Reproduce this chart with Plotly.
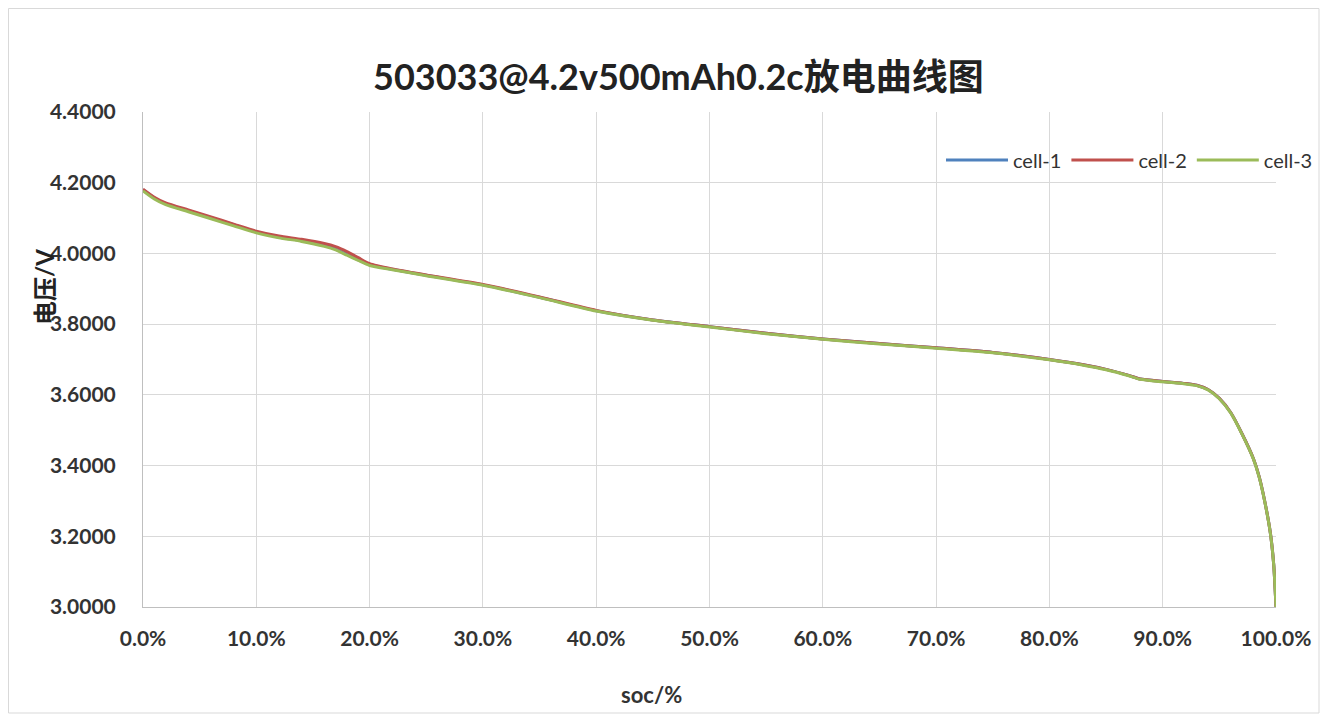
import plotly.graph_objects as go

# ---- data ----
soc = [0.0, 0.01, 0.02, 0.04, 0.06, 0.08, 0.10, 0.12, 0.14, 0.16, 0.17, 0.18, 0.19, 0.20,
       0.22, 0.25, 0.30, 0.35, 0.40, 0.45, 0.50, 0.55, 0.60, 0.65, 0.70, 0.75, 0.80,
       0.83, 0.85, 0.87, 0.88, 0.90, 0.92, 0.93, 0.94, 0.95, 0.96, 0.97, 0.98, 0.985,
       0.99, 0.995, 0.998, 1.0]

cell1 = [4.180, 4.157, 4.141, 4.121, 4.101, 4.081, 4.061, 4.046, 4.036, 4.022, 4.012, 3.997, 3.982, 3.968,
         3.955, 3.938, 3.911, 3.876, 3.838, 3.812, 3.793, 3.774, 3.758, 3.745, 3.733, 3.720, 3.700,
         3.685, 3.672, 3.655, 3.645, 3.638, 3.632, 3.627, 3.615, 3.590, 3.550, 3.490, 3.420, 3.370,
         3.300, 3.210, 3.120, 3.000]

cell2 = [4.182, 4.159, 4.143, 4.123, 4.103, 4.083, 4.063, 4.049, 4.040, 4.028, 4.019, 4.005, 3.988, 3.971,
         3.956, 3.939, 3.912, 3.877, 3.839, 3.812, 3.793, 3.774, 3.758, 3.745, 3.733, 3.720, 3.700,
         3.685, 3.672, 3.655, 3.645, 3.638, 3.632, 3.627, 3.615, 3.590, 3.550, 3.490, 3.420, 3.370,
         3.300, 3.210, 3.120, 3.000]

cell3 = [4.177, 4.154, 4.138, 4.118, 4.098, 4.078, 4.058, 4.044, 4.034, 4.020, 4.010, 3.995, 3.980, 3.966,
         3.954, 3.937, 3.910, 3.875, 3.837, 3.811, 3.792, 3.773, 3.757, 3.744, 3.732, 3.719, 3.699,
         3.684, 3.671, 3.654, 3.644, 3.637, 3.631, 3.626, 3.614, 3.589, 3.549, 3.489, 3.419, 3.369,
         3.299, 3.209, 3.119, 3.000]

series_names = ["cell-1", "cell-2", "cell-3"]
series_values = [cell1, cell2, cell3]
series_colors = ["#4F81BD", "#C0504D", "#9BBB59"]

title_text = "503033@4.2v500mAh0.2c放电曲线图"
y_title = "电压/V"
x_title = "soc/%"

FONT = "Lato, 'Noto Sans CJK SC', sans-serif"
TXT = "#333333"

fig = go.Figure()
for name, vals, col in zip(series_names, series_values, series_colors):
    fig.add_trace(go.Scatter(x=soc, y=vals, name=name, mode="lines",
                             line=dict(color=col, width=3, shape="spline", smoothing=0.6)))

# page has an 8px body margin; work in page pixel coordinates and convert
OFF = 8
W, H = 1328 - 2 * OFF, 722 - 2 * OFF
L, R, T, B = 143, 1276, 112, 607          # plot area in page pixels
pw, ph = R - L, B - T

def px(x):
    return (x - L) / pw

def py(y):
    return (B - y) / ph

def cx(x):
    return (x - OFF) / W

def cy(y):
    return 1 - (y - OFF) / H

fig.update_layout(
    width=W, height=H,
    margin=dict(l=L - OFF, r=W - (R - OFF), t=T - OFF, b=H - (B - OFF), pad=0, autoexpand=False),
    paper_bgcolor="white", plot_bgcolor="white",
    font=dict(family=FONT, color=TXT),
    showlegend=True,
    legend=dict(orientation="h", xref="container", yref="container",
                x=cx(1318), xanchor="right", y=cy(160), yanchor="middle",
                font=dict(size=20, family=FONT, color=TXT), bgcolor="rgba(0,0,0,0)",
                itemwidth=62, tracegroupgap=0),
    xaxis=dict(range=[0, 1], dtick=0.1, tick0=0, tickformat=".1%",
               showgrid=True, gridcolor="#D9D9D9", gridwidth=1,
               showline=True, linecolor="#BFBFBF", linewidth=1,
               zeroline=False, ticks="", ticklen=0, ticklabelstandoff=13,
               tickfont=dict(size=21, weight="bold", color=TXT, family=FONT)),
    yaxis=dict(range=[3.0, 4.4], dtick=0.2, tick0=3.0, tickformat=".4f",
               showgrid=True, gridcolor="#D9D9D9", gridwidth=1,
               showline=True, linecolor="#BFBFBF", linewidth=1,
               zeroline=False, ticks="outside", ticklen=22, tickcolor="rgba(0,0,0,0)",
               tickfont=dict(size=21, weight="bold", color=TXT, family=FONT)),
    annotations=[
        dict(text="<b>" + title_text + "</b>", xref="paper", yref="paper",
             x=px(678), y=py(76), xanchor="center", yanchor="middle", showarrow=False,
             font=dict(size=36, color="#222222", family=FONT)),
        dict(text="<b>" + y_title + "</b>", xref="paper", yref="paper",
             x=px(44), y=py(287), xanchor="center", yanchor="middle", showarrow=False,
             textangle=-90, font=dict(size=24, color="#222222", family=FONT)),
        dict(text="<b>" + x_title + "</b>", xref="paper", yref="paper",
             x=px(651), y=py(694), xanchor="center", yanchor="middle", showarrow=False,
             font=dict(size=22, color=TXT, family=FONT)),
    ],
    shapes=[
        dict(type="rect", xref="paper", yref="paper",
             x0=px(OFF + 0.5), x1=px(OFF + W - 1), y0=py(OFF + H - 1), y1=py(OFF + 0.5),
             line=dict(color="#D9D9D9", width=1), fillcolor="rgba(0,0,0,0)", layer="below"),
    ],
)

fig.write_html("out.html")
